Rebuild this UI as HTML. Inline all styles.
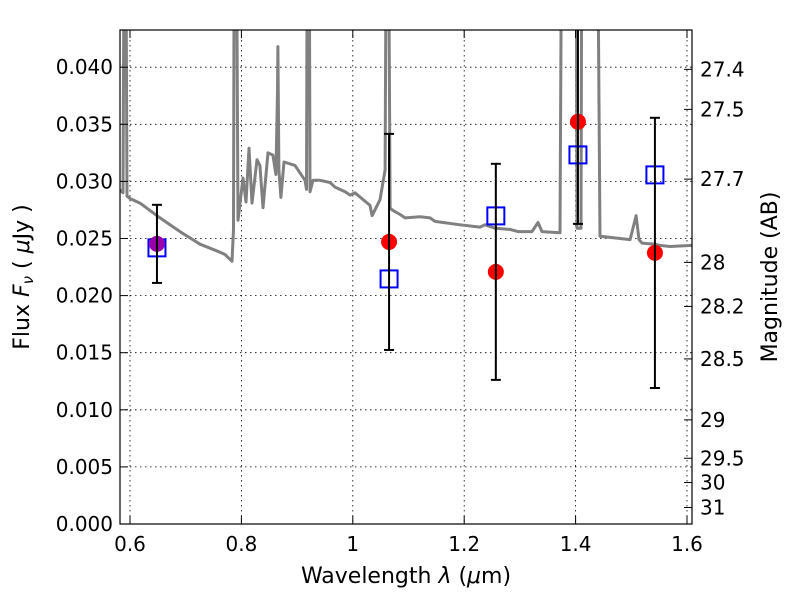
<!DOCTYPE html>
<html><head><meta charset="utf-8"><style>
body{margin:0;background:#fff}
svg text{font-family:"DejaVu Sans","Liberation Sans",sans-serif;font-size:20px;fill:#000}
svg text.title{font-size:22px}
</style></head><body>
<svg id="chart" width="800" height="600" viewBox="0 0 800 600" xmlns="http://www.w3.org/2000/svg">
<defs><clipPath id="clip"><rect x="120" y="30" width="572" height="494"/></clipPath></defs>
<rect x="0" y="0" width="800" height="600" fill="#fff"/>
<g id="grid"></g>
<g id="spec" clip-path="url(#clip)"></g>
<g id="marks" clip-path="url(#clip)"></g>
<rect x="120" y="30" width="572" height="494" fill="none" stroke="#000" stroke-width="1.2"/>
<g id="axes"></g>
<text class="title" x="406" y="583" text-anchor="middle">Wavelength  <tspan font-style="italic">λ</tspan> (<tspan font-style="italic">μ</tspan>m)</text>
<text class="title" transform="translate(29,277) rotate(-90)" text-anchor="middle">Flux  <tspan font-style="italic">F</tspan><tspan font-style="italic" font-size="15" dy="4">ν</tspan><tspan dy="-4">  ( </tspan><tspan font-style="italic">μ</tspan>Jy )</text>
<text class="title" transform="translate(777,277) rotate(-90)" text-anchor="middle">Magnitude (AB)</text>
</svg>
<script>
const xTicks=[0.6,0.8,1.0,1.2,1.4,1.6];
const xTickLabels=["0.6","0.8","1","1.2","1.4","1.6"];
const yTicks=[0,0.005,0.01,0.015,0.02,0.025,0.03,0.035,0.04];
const yTickLabels=["0.000","0.005","0.010","0.015","0.020","0.025","0.030","0.035","0.040"];
const magTicks=[27.4,27.5,27.7,28,28.2,28.5,29,29.5,30,31];
const magTickLabels=["27.4","27.5","27.7","28","28.2","28.5","29","29.5","30","31"];
const specWl=[0.582,0.5875,0.5902,0.592,0.5947,0.6,0.6180,0.6539,0.6898,0.7257,0.7616,0.7705,0.7831,0.7858,0.7875,0.7903,0.7939,0.8029,0.8082,0.8136,0.8190,0.8280,0.8333,0.8387,0.8477,0.8566,0.8620,0.8648,0.8656,0.8674,0.8710,0.8765,0.8962,0.9142,0.9169,0.9186,0.9213,0.9231,0.9285,0.9411,0.9591,0.9681,0.9861,0.9951,1.0040,1.0309,1.0346,1.0489,1.0579,1.0606,1.0634,1.0669,1.0706,1.0849,1.0939,1.1206,1.1386,1.1476,1.1925,1.2284,1.2374,1.2553,1.2823,1.2966,1.3217,1.3325,1.3397,1.3720,1.3756,1.4007,1.4025,1.4097,1.4115,1.4384,1.4438,1.4618,1.4978,1.5086,1.5139,1.5193,1.5427,1.5517,1.5697,1.6090];
const specFlux=[0.02926,0.029,0.06,0.06,0.0287,0.0285,0.0281,0.0268,0.0256,0.0245,0.0238,0.0236,0.023,0.0258,0.06,0.06,0.0266,0.0303,0.0282,0.0329,0.0281,0.0319,0.0314,0.0277,0.0325,0.0323,0.0306,0.0378,0.0418,0.031,0.0286,0.0317,0.0314,0.0301,0.0293,0.06,0.06,0.0291,0.0301,0.0301,0.0299,0.0295,0.0291,0.0288,0.029,0.0279,0.027,0.0284,0.031,0.06,0.06,0.0277,0.0275,0.0271,0.0268,0.0269,0.0268,0.0265,0.0262,0.026,0.0262,0.0259,0.0258,0.0256,0.0256,0.0264,0.0256,0.0255,0.06,0.06,0.0259,0.0259,0.06,0.06,0.0252,0.0251,0.0249,0.027,0.0249,0.0246,0.0245,0.0244,0.0243,0.0244];
const obsWl=[0.6484,1.0651,1.2568,1.4042,1.5424];
const obsFlux=[0.02453,0.0247,0.02208,0.03522,0.02374];
const obsErr=[0.00342,0.00946,0.00946,0.00894,0.01183];
const modelFlux=[0.02418,0.02146,0.02698,0.03232,0.03057];
const obsColors=["#9900aa","#ff0000","#ff0000","#ff0000","#ff0000"];

const X0=130,XS=557,XMIN=0.6;
const sx=v=>X0+(v-XMIN)*XS;
const sy=v=>524-v/0.005*57.1;
const magToFlux=m=>Math.pow(10,(23.9-m)/2.5);
const NS="http://www.w3.org/2000/svg";
function mk(tag,attrs,parent){const e=document.createElementNS(NS,tag);for(const k in attrs)e.setAttribute(k,attrs[k]);parent.appendChild(e);return e;}
const grid=document.getElementById('grid'),axes=document.getElementById('axes'),spec=document.getElementById('spec'),marks=document.getElementById('marks');

xTicks.forEach((t,i)=>{const x=sx(t);
 const g=mk('line',{x1:x,x2:x,y1:30,y2:524,stroke:'#000','stroke-width':0.8,'stroke-dasharray':'1.5,3.5'},grid);
 
 mk('line',{x1:x,x2:x,y1:524,y2:516,stroke:'#000'},axes);
 mk('line',{x1:x,x2:x,y1:30,y2:38,stroke:'#000'},axes);
 const tx=mk('text',{x:x,y:551,'text-anchor':'middle'},axes);tx.textContent=xTickLabels[i];
 
});
yTicks.forEach((t,i)=>{const y=sy(t);
 const g=mk('line',{x1:120,x2:692,y1:y,y2:y,stroke:'#000','stroke-width':0.8,'stroke-dasharray':'1.5,3.5'},grid);
 
 mk('line',{x1:120,x2:128,y1:y,y2:y,stroke:'#000'},axes);
 const tx=mk('text',{x:113,y:y+7,'text-anchor':'end'},axes);tx.textContent=yTickLabels[i];
 
});
magTicks.forEach((m,i)=>{const y=sy(magToFlux(m));
 mk('line',{x1:684,x2:692,y1:y,y2:y,stroke:'#000'},axes);
 const tx=mk('text',{x:700,y:y+7,'text-anchor':'start'},axes);tx.textContent=magTickLabels[i];
 
});
const pts=specWl.map((w,i)=>sx(w).toFixed(1)+','+sy(specFlux[i]).toFixed(1)).join(' ');
const pl=mk('polyline',{points:pts,fill:'none',stroke:'#808080','stroke-width':3,'stroke-linejoin':'round'},spec);


obsWl.forEach((w,i)=>{const x=sx(w);
 const s=mk('rect',{x:x-8.5,y:sy(modelFlux[i])-8.5,width:17,height:17,fill:'none',stroke:'#0000ff','stroke-width':2},marks);
 
});
obsWl.forEach((w,i)=>{const x=sx(w),y1=sy(obsFlux[i]+obsErr[i]),y2=sy(obsFlux[i]-obsErr[i]);
 const c=mk('circle',{cx:x,cy:sy(obsFlux[i]),r:8,fill:obsColors[i]},marks);
 
 const e=mk('line',{x1:x,x2:x,y1:y1,y2:y2,stroke:'#000','stroke-width':2},marks);
 
 mk('line',{x1:x-5,x2:x+5,y1:y1,y2:y1,stroke:'#000','stroke-width':2},marks);
 mk('line',{x1:x-5,x2:x+5,y1:y2,y2:y2,stroke:'#000','stroke-width':2},marks);
});
</script>
</body></html>
